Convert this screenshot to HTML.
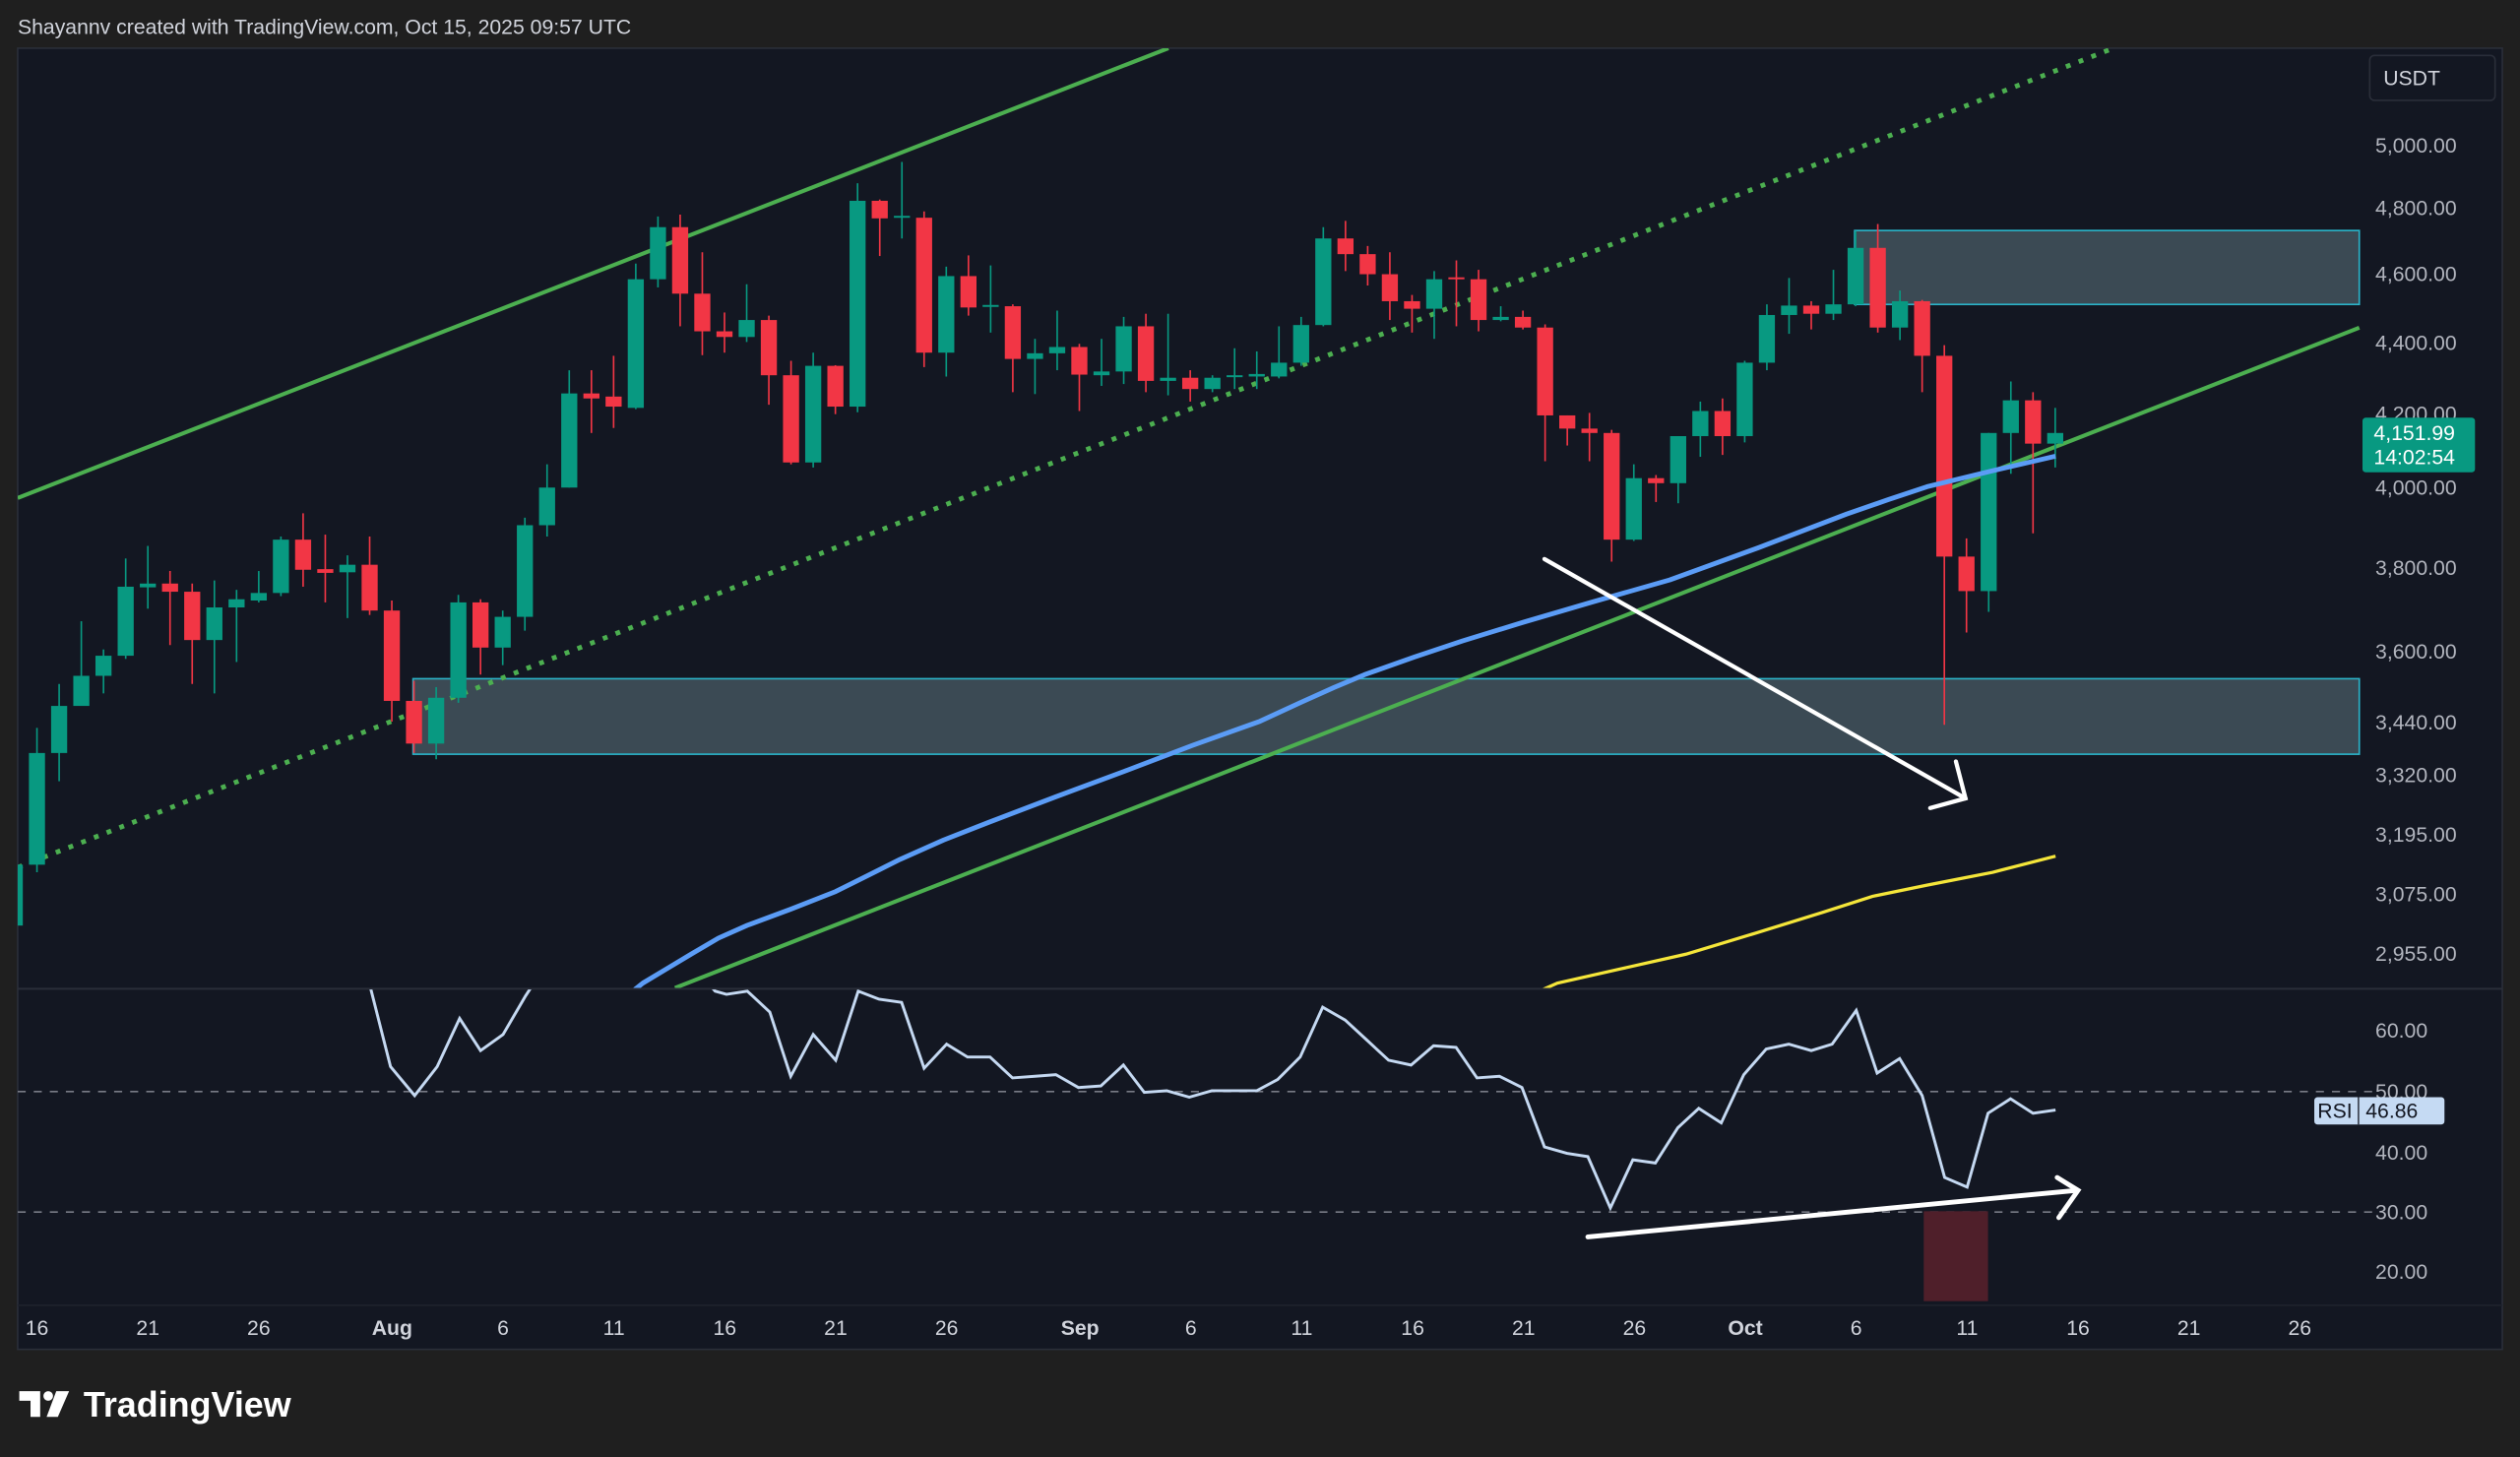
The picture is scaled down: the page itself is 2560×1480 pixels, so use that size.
<!DOCTYPE html>
<html><head><meta charset="utf-8"><style>
html,body{margin:0;padding:0;background:#1f1f1f;width:2560px;height:1480px;overflow:hidden}
svg{display:block}
text{font-family:"Liberation Sans",sans-serif}
</style></head><body>
<svg id="s" width="2560" height="1480" viewBox="0 0 1568 907" preserveAspectRatio="none" xmlns="http://www.w3.org/2000/svg">
<defs>
<clipPath id="main"><rect x="11" y="30" width="1546" height="585"/></clipPath>
<clipPath id="rsi"><rect x="11" y="616" width="1546" height="196"/></clipPath>
</defs>
<rect x="0" y="0" width="1568" height="907" fill="#1f1f1f"/>
<text x="11" y="21" font-size="13" fill="#d1d4dc">Shayannv created with TradingView.com, Oct 15, 2025 09:57 UTC</text>
<rect x="11" y="30" width="1546" height="810" fill="#131722" stroke="#2a2e39" stroke-width="1"/>
<line x1="11" y1="615.5" x2="1557" y2="615.5" stroke="#2a2e39" stroke-width="1.2"/>
<line x1="11" y1="812.5" x2="1557" y2="812.5" stroke="#1e222d" stroke-width="1"/>
<g clip-path="url(#main)">
<rect x="257" y="422.5" width="1211" height="47" fill="#3b4a54" stroke="#2bb3c8" stroke-width="1"/>
<rect x="1154" y="143.5" width="314" height="46" fill="#3b4a54" stroke="#2bb3c8" stroke-width="1"/>
<line x1="11" y1="310" x2="727" y2="30" stroke="#4caf50" stroke-width="2.5"/>
<line x1="420" y1="615" x2="1468" y2="204" stroke="#4caf50" stroke-width="2.5"/>
<line x1="11" y1="540" x2="1315" y2="30" stroke="#4caf50" stroke-width="3" stroke-dasharray="3,5.5"/>
<polyline fill="none" stroke="#f5e63a" stroke-width="2" points="960,616 969,612 1009,603 1049,594 1092,581 1134,568 1165,558 1199,551 1240,543 1279,533"/>
<g id="candles"></g>
<polyline fill="none" stroke="#5b9cf6" stroke-width="3" stroke-linejoin="round" points="395,616 400,612 415,603 430,594 447,584 465,576 492,566 520,555 540,545 560,535 587,523 615,512 657,496 700,480 742,464 784,449 810,437 830,428 849,420 880,409 910,399 949,387 990,375 1039,361 1094,341 1149,320 1175,311 1199,303 1240,293 1279,284"/>
<g stroke="#fff" stroke-width="2.6" fill="none" stroke-linecap="round">
<line x1="961" y1="348" x2="1223" y2="497"/>
<polyline points="1217,474 1223,497 1201,503"/>
</g>
</g>
<g clip-path="url(#rsi)">
<line x1="11" y1="679.5" x2="1478" y2="679.5" stroke="#787b86" stroke-width="1" stroke-dasharray="5,5"/>
<line x1="11" y1="754.5" x2="1478" y2="754.5" stroke="#787b86" stroke-width="1" stroke-dasharray="5,5"/>
<rect x="1197" y="754" width="40" height="56" fill="#4f1f2a"/>
<polyline fill="none" stroke="#c5d9f2" stroke-width="1.8" points="228,605 243,664 258,682 272,664 286,634 299,654 313,644 327,620 340,600 430,600 445,617 452,619 465,617 479,630 492,670 506,644 520,660 534,617 547,622 561,624 575,665 589,650 602,658 616,658 630,671 644,670 657,669 671,677 685,676 699,663 712,680 726,679 740,683 754,679 768,679 782,679 795,672 809,658 823,627 837,635 850,647 864,660 878,663 892,651 906,652 919,671 933,670 947,677 961,714 975,718 988,720 1002,752 1016,722 1030,724 1044,702 1057,690 1071,699 1085,669 1099,653 1113,650 1127,654 1140,650 1155,629 1168,668 1182,659 1196,682 1210,733 1224,739 1237,693 1251,684 1265,693 1279,691"/>
<g stroke="#fff" stroke-width="3" fill="none" stroke-linecap="round">
<line x1="988" y1="770" x2="1292" y2="741"/>
<polyline points="1280,733 1293,741 1281,758"/>
</g>
</g>
<g font-size="13" fill="#b2b5be">
<text x="1478" y="95">5,000.00</text><text x="1478" y="134">4,800.00</text><text x="1478" y="175">4,600.00</text>
<text x="1478" y="218">4,400.00</text><text x="1478" y="262">4,200.00</text><text x="1478" y="308">4,000.00</text>
<text x="1478" y="358">3,800.00</text><text x="1478" y="410">3,600.00</text><text x="1478" y="454">3,440.00</text>
<text x="1478" y="487">3,320.00</text><text x="1478" y="524">3,195.00</text><text x="1478" y="561">3,075.00</text>
<text x="1478" y="598">2,955.00</text>
<text x="1478" y="646">60.00</text><text x="1478" y="684">50.00</text><text x="1478" y="722">40.00</text>
<text x="1478" y="759">30.00</text><text x="1478" y="796">20.00</text>
</g>
<rect x="1474.5" y="34.5" width="78" height="28" rx="3" fill="#131722" stroke="#2a2e39"/>
<text x="1483" y="53" font-size="13" fill="#d1d4dc">USDT</text>
<rect x="1470" y="260" width="70" height="34" rx="2" fill="#089981"/>
<text x="1477" y="274" font-size="13" fill="#fff">4,151.99</text>
<text x="1477" y="289" font-size="13" fill="#fff">14:02:54</text>
<rect x="1440" y="683" width="81" height="17" rx="2" fill="#c5daf3"/>
<line x1="1467.5" y1="683" x2="1467.5" y2="700" stroke="#131722" stroke-width="0.8"/>
<text x="1442" y="696" font-size="13" fill="#131722">RSI</text>
<text x="1472" y="696" font-size="13" fill="#131722">46.86</text>
<g font-size="13" fill="#d1d4dc" text-anchor="middle">
<text x="23" y="831">16</text><text x="92" y="831">21</text><text x="161" y="831">26</text><text x="244" y="831" font-weight="bold">Aug</text>
<text x="313" y="831">6</text><text x="382" y="831">11</text><text x="451" y="831">16</text><text x="520" y="831">21</text>
<text x="589" y="831">26</text><text x="672" y="831" font-weight="bold">Sep</text><text x="741" y="831">6</text><text x="810" y="831">11</text>
<text x="879" y="831">16</text><text x="948" y="831">21</text><text x="1017" y="831">26</text><text x="1086" y="831" font-weight="bold">Oct</text>
<text x="1155" y="831">6</text><text x="1224" y="831">11</text><text x="1293" y="831">16</text><text x="1362" y="831">21</text><text x="1431" y="831">26</text>
</g>
<g fill="#fff">
<path d="M12,866 h13 v16 h-6 v-10 h-7z"/>
<circle cx="30" cy="869" r="3"/>
<path d="M35,866 h8 l-7,16 h-7z"/>
</g>
<text x="52" y="882" font-size="22" font-weight="bold" fill="#fff">TradingView</text>
</svg>
<script>
var D=[
['G',1378,1475,1378,1475],
['G',1200,1378,1160,1390],['G',1125,1200,1090,1245],['G',1077,1125,990,1100],['G',1045,1077,1035,1105],['G',935,1045,890,1050],
['G',930,936,870,970],['R',930,943,910,1028],['R',943,1020,930,1090],['G',968,1020,925,1105],['G',955,968,940,1055],
['G',945,957,910,960],['G',860,945,855,950],['R',860,908,818,935],['R',907,913,852,960],['G',900,912,885,985],
['R',900,973,855,980],['R',973,1117,957,1150],['R',1117,1185,1085,1200],['G',1112,1185,1095,1210],['G',960,1112,948,1120],
['R',960,1032,955,1075],['G',983,1032,973,1060],['G',837,983,825,1005],['G',777,837,740,855],['G',627,777,590,777],
['R',627,635,590,690],['R',632,648,567,682],['G',445,650,420,652],['G',362,445,345,458],['R',362,468,342,520],
['R',468,528,402,566],['R',528,537,498,562],['G',510,537,453,545],['R',510,598,503,645],['R',598,737,575,740],
['G',583,737,562,745],['R',583,648,582,660],['G',320,648,292,657],['R',320,348,318,408],['G',344,347,258,380],
['R',347,562,337,585],['G',440,562,425,600],['R',440,490,407,503],['G',486,489,423,530],['R',488,572,485,625],
['G',563,572,540,628],['G',553,563,495,590],['R',553,597,548,655],['G',592,598,540,615],['G',520,592,505,612],
['R',520,607,500,625],['G',602,607,500,630],['R',602,620,590,640],['G',602,620,598,625],['G',598,601,555,620],
['G',596,600,560,620],
['G',578,600,520,603],['G',518,578,505,583],['G',380,518,362,520],['R',380,405,352,432],['R',405,437,392,455],
['R',437,480,402,510],['R',480,492,470,530],['G',445,492,432,540],['R',442,445,415,520],['R',445,510,430,528],
['G',505,510,488,512],['R',505,522,495,525],['R',522,662,517,735],['R',662,683,662,710],['R',683,690,658,735],
['R',690,860,685,895],['G',762,860,740,862],['R',762,770,757,800],['G',695,770,695,802],['G',655,695,640,728],
['R',655,695,635,725],['G',578,695,575,705],['G',502,578,485,590],['G',487,502,443,532],['R',487,500,480,525],
['G',485,500,430,510],['G',395,485,368,488],['R',395,522,357,530],['G',480,522,463,542],['R',480,567,478,625],
['R',567,887,550,1155],['R',887,942,858,1008],['G',690,942,690,975],['G',638,690,608,755],['R',638,707,625,850],
['G',690,707,650,745]];
var g=document.getElementById('candles'),h='';
for(var i=0;i<D.length;i++){var d=i-1,x=23+13.8*d,c=D[i],col=c[0]=='G'?'#089981':'#f23645',k=2.56;
var bt=c[1]/k,bb=c[2]/k,wt=c[3]/k,wb=c[4]/k;if(bb-bt<1.2){bb=bt+1.2}
h+='<line x1="'+x+'" x2="'+x+'" y1="'+wt+'" y2="'+wb+'" stroke="'+col+'" stroke-width="1"/>';
h+='<rect x="'+(x-5)+'" y="'+bt+'" width="10" height="'+(bb-bt)+'" fill="'+col+'"/>';}
g.innerHTML=h;
</script>
</body></html>
